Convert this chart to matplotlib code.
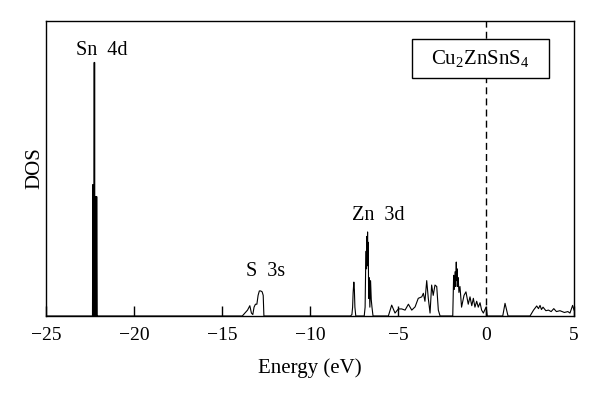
import numpy as np
import matplotlib
matplotlib.use('Agg')
import matplotlib.pyplot as plt
from matplotlib.patches import Rectangle

plt.rcParams['font.family'] = ['Liberation Serif', 'DejaVu Serif']
plt.rcParams['mathtext.fontset'] = 'custom'
plt.rcParams['mathtext.rm'] = 'Liberation Serif'
plt.rcParams['mathtext.it'] = 'Liberation Serif:italic'

# Energia (eV) y densidad de estados
energia = [-25.0, -22.40, -22.36, -22.34, -22.33, -22.32, -22.31, -22.30, -22.29, -22.28,
           -22.27, -22.26, -22.25, -22.24, -22.23, -22.22, -22.21, -22.20, -22.19,
           -22.18, -22.17, -22.16, -22.15, -22.14, -22.13, -22.12, -22.10, -22.08,
           -14.0, -13.85, -13.7, -13.55, -13.42, -13.33, -13.25, -13.18, -13.10, -13.02,
           -12.95, -12.88, -12.80, -12.72, -12.66, -12.62,
           -7.70, -7.62, -7.58, -7.55, -7.51, -7.48, -7.45, -7.40,
           -6.92, -6.87, -6.84, -6.81, -6.79, -6.77, -6.75, -6.73, -6.71, -6.69, -6.67,
           -6.64, -6.60, -6.56, -6.52, -6.48, -6.42,
           -5.55, -5.36, -5.17, -4.98, -4.79, -4.60, -4.41, -4.22, -4.03, -3.85, -3.65,
           -3.56, -3.47, -3.37, -3.28, -3.18, -3.09, -3.00, -2.90, -2.80, -2.71, -2.61,
           -1.89, -1.84, -1.80, -1.76, -1.72, -1.69, -1.67, -1.64, -1.61, -1.58, -1.54,
           -1.48, -1.39, -1.25, -1.14, -1.01, -0.91, -0.81, -0.72, -0.63, -0.53, -0.44,
           -0.34, -0.25, -0.15, 0.00, 0.07,
           0.95, 1.08, 1.25,
           2.50, 2.70, 2.88, 2.98, 3.07, 3.15, 3.24, 3.40, 3.55, 3.70, 3.85, 4.00, 4.20,
           4.45, 4.65, 4.77, 4.92, 5.0]
dos = [0.0, 0.0, 0.0, 0.445, 0.0, 0.445, 0.0, 0.445, 0.0, 0.44,
       0.0, 0.86, 0.0, 0.86, 0.0, 0.405, 0.0, 0.405, 0.0,
       0.405, 0.0, 0.405, 0.0, 0.405, 0.0, 0.405, 0.0, 0.0,
       0.0, 0.0, 0.01, 0.02, 0.035, 0.01, 0.005, 0.03, 0.04, 0.04,
       0.07, 0.085, 0.085, 0.082, 0.07, 0.0,
       0.0, 0.005, 0.03, 0.08, 0.115, 0.09, 0.03, 0.0,
       0.0, 0.03, 0.16, 0.22, 0.16, 0.27, 0.20, 0.285, 0.17, 0.25, 0.06,
       0.13, 0.03, 0.12, 0.055, 0.03, 0.0,
       0.0, 0.037, 0.01, 0.024, 0.024, 0.02, 0.04, 0.02, 0.031, 0.06, 0.065,
       0.077, 0.05, 0.12, 0.06, 0.01, 0.105, 0.07, 0.105, 0.10, 0.02, 0.0,
       0.0, 0.138, 0.09, 0.15, 0.10, 0.183, 0.12, 0.16, 0.10, 0.13, 0.08,
       0.10, 0.03, 0.07, 0.082, 0.04, 0.065, 0.035, 0.06, 0.03, 0.05, 0.03,
       0.045, 0.02, 0.01, 0.03, 0.0,
       0.0, 0.043, 0.0,
       0.0, 0.02, 0.034, 0.025, 0.036, 0.022, 0.03, 0.018, 0.02, 0.015, 0.025, 0.015, 0.018,
       0.012, 0.015, 0.01, 0.036, 0.02]

picos = ['Sn  4d', 'S  3s', 'Zn  3d']
picos_x = [-21.83, -12.54, -6.10]
picos_y = [0.90, 0.15, 0.34]

fig = plt.figure(figsize=(6, 3.99), dpi=100)
ax = fig.add_axes([0.0767, 0.208, 0.88, 0.739])

ax.plot(energia, dos, color='black', linewidth=0.8)
ax.axvline(0, color='black', linestyle=(0, (5, 3)), linewidth=1.0, zorder=1)

for etiqueta, px, py in zip(picos, picos_x, picos_y):
    ax.text(px, py, etiqueta, ha='center', va='center', fontsize=14.5)

# Caja con la formula
ax.add_patch(Rectangle((0.693, 0.807), 0.26, 0.132, transform=ax.transAxes,
                       facecolor='white', edgecolor='black', linewidth=1.0, zorder=3))
ax.text(0.823, 0.873, r'Cu$_2$ZnSnS$_4$', transform=ax.transAxes, ha='center',
        va='center', fontsize=15, zorder=4)

ax.set_xlim(-25, 5)
ax.set_ylim(0, 1)
ax.set_xticks([-25, -20, -15, -10, -5, 0, 5])
ax.set_yticks([])
ax.tick_params(axis='x', direction='in', length=7, width=1, labelsize=14, pad=8)
ax.set_xlabel('Energy (eV)', fontsize=15, labelpad=10)
ax.set_ylabel('DOS', fontsize=15, labelpad=1)
for s in ax.spines.values():
    s.set_linewidth(1.0)

fig.savefig('out.png', dpi=100)
